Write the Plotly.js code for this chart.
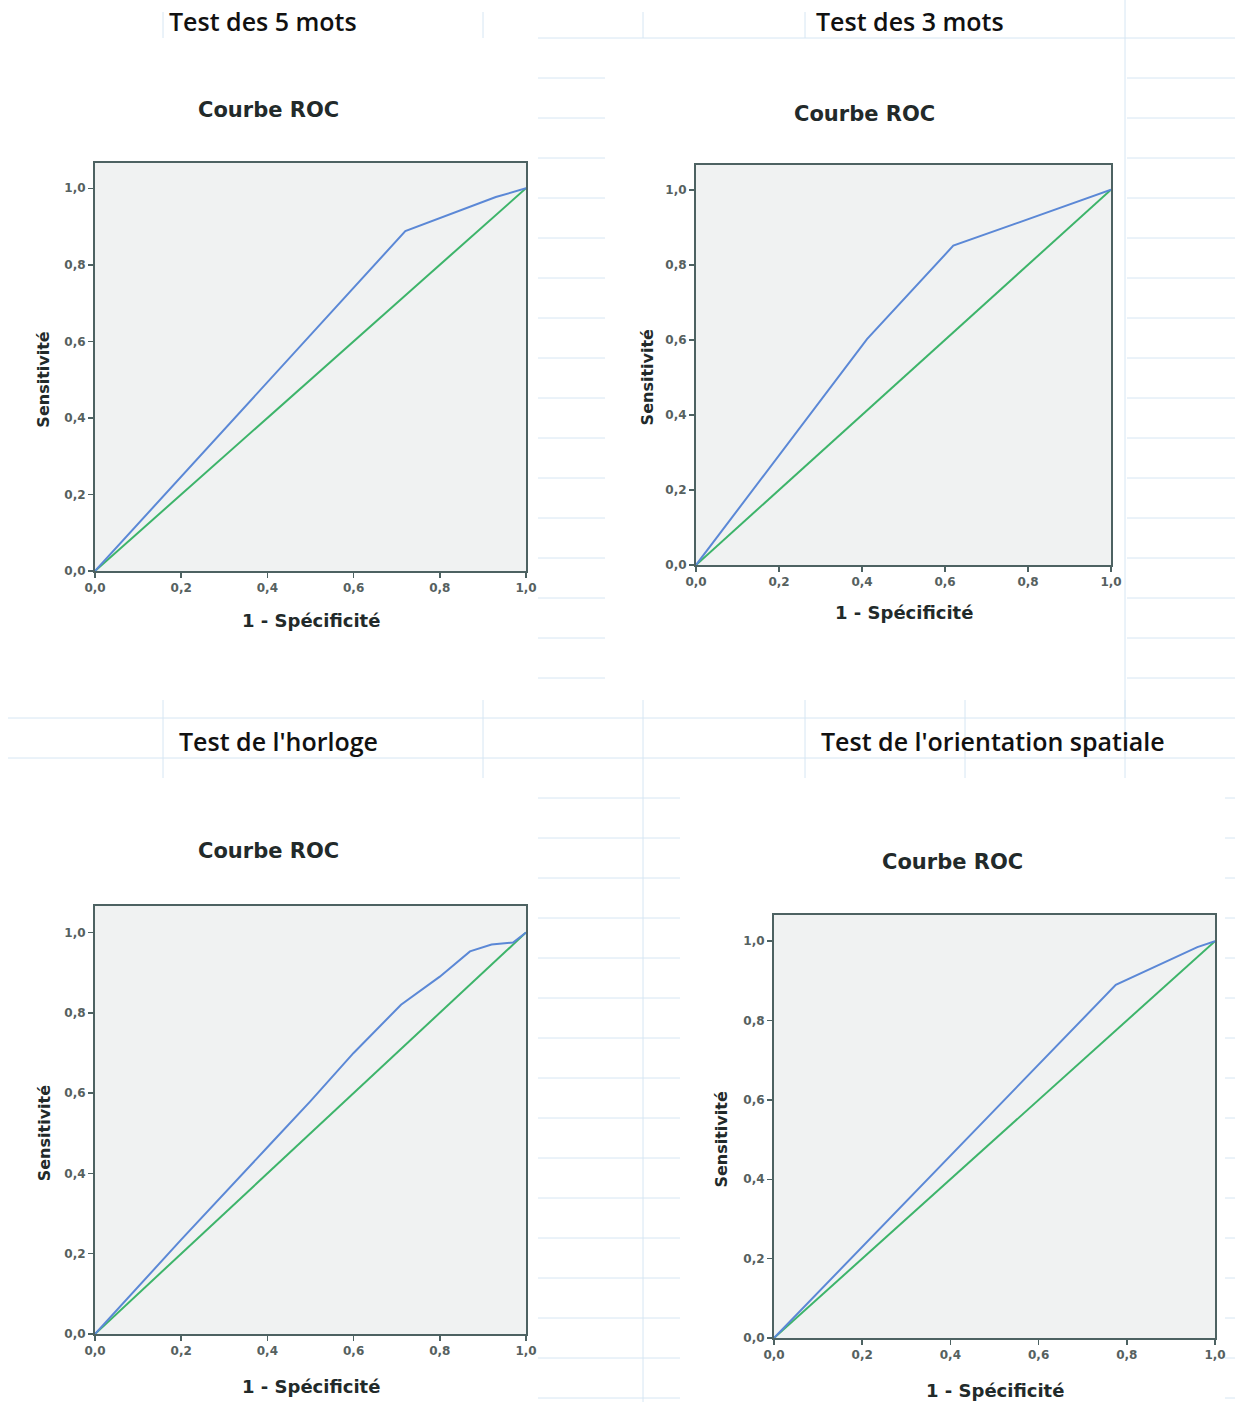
<!DOCTYPE html>
<html>
<head>
<meta charset="utf-8">
<script src="https://cdn.plot.ly/plotly-3.0.1.min.js"></script>
<style>
html,body{margin:0;padding:0;background:#ffffff;}
#chart{width:1235px;height:1402px;}
</style>
</head>
<body>
<div id="chart"></div>
<script>
// ---- Data ----
const sectionTitles = ["Test des 5 mots", "Test des 3 mots", "Test de l'horloge", "Test de l'orientation spatiale"];
const chartTitle = "Courbe ROC";
const xTitle = "1 - Spécificité";
const yTitle = "Sensitivité";
const tickVals = [0, 0.2, 0.4, 0.6, 0.8, 1.0];
const tickLabels = ["0,0", "0,2", "0,4", "0,6", "0,8", "1,0"];

const fpr5mots = [0, 0.72, 0.93, 1];
const sens5mots = [0, 0.888, 0.977, 1];

const fpr3mots = [0, 0.412, 0.62, 1];
const sens3mots = [0, 0.602, 0.851, 1];

const fprHorloge = [0, 0.2, 0.4, 0.5, 0.6, 0.71, 0.8, 0.87, 0.92, 0.97, 1];
const sensHorloge = [0, 0.235, 0.465, 0.58, 0.70, 0.82, 0.89, 0.953, 0.97, 0.975, 1];

const fprOrient = [0, 0.775, 0.96, 1];
const sensOrient = [0, 0.89, 0.985, 1];

const refX = [0, 1];
const refY = [0, 1];

// ---- Layout helpers ----
const W = 1235, H = 1402;
const px = v => v / W;
const py = v => 1 - v / H;

// plot frames in pixels: [left, right, top, bottom]
const frames = [
  [95, 526, 163, 571],
  [696, 1111, 165, 565],
  [95, 526, 906, 1334],
  [774, 1215, 915, 1338]
];
const rocTitlePos = [[268, 110], [864, 114], [268, 851], [952, 862]];
const sectionPos = [[263, 21], [910, 21], [278, 741], [993, 741]];
const xTitleY = [620, 612, 1386, 1390];
const yTitleX = [44, 647, 44, 722];

const blue = '#5b88d6';
const green = '#3db46a';
const frameColor = '#4d6262';
const sansFam = 'DejaVu Sans, Verdana, sans-serif';
const tickFont = {family: sansFam, size: 12, color: '#56615f', weight: 'bold'};

const curves = [[fpr5mots, sens5mots], [fpr3mots, sens3mots], [fprHorloge, sensHorloge], [fprOrient, sensOrient]];

const data = [];
const layout = {
  width: W, height: H,
  margin: {l: 0, r: 0, t: 0, b: 0},
  paper_bgcolor: '#ffffff',
  plot_bgcolor: '#f0f2f2',
  showlegend: false,
  separators: ', ',
  annotations: [],
  shapes: []
};

curves.forEach((c, i) => {
  const n = i === 0 ? '' : String(i + 1);
  const xa = 'x' + n, ya = 'y' + n;
  data.push({x: refX, y: refY, xaxis: xa, yaxis: ya, mode: 'lines', type: 'scatter',
    line: {color: green, width: 2}, hoverinfo: 'skip'});
  data.push({x: c[0], y: c[1], xaxis: xa, yaxis: ya, mode: 'lines', type: 'scatter',
    line: {color: blue, width: 2}, hoverinfo: 'skip'});
  const f = frames[i];
  layout['xaxis' + n] = {
    domain: [px(f[0]), px(f[1])], anchor: ya, range: [0, 1],
    tickvals: tickVals, ticktext: tickLabels, ticks: 'outside', ticklen: 5, tickwidth: 1.5,
    tickcolor: frameColor, showline: true, linecolor: frameColor, linewidth: 2, mirror: true,
    showgrid: false, zeroline: false, tickfont: tickFont, fixedrange: true
  };
  layout['yaxis' + n] = {
    domain: [py(f[3]), py(f[2])], anchor: xa, range: [0, 1.066],
    tickvals: tickVals, ticktext: tickLabels, ticks: 'outside', ticklen: 5, tickwidth: 1.5,
    tickcolor: frameColor, showline: true, linecolor: frameColor, linewidth: 2, mirror: true,
    showgrid: false, zeroline: false, tickfont: tickFont, fixedrange: true
  };
  layout.shapes.push({type: 'rect', xref: 'paper', yref: 'paper', layer: 'below',
    x0: px(f[0]), x1: px(f[1]), y0: py(f[3]), y1: py(f[2]), fillcolor: '#f0f2f2', line: {width: 0}});
  layout.annotations.push({text: '<b>' + chartTitle + '</b>', xref: 'paper', yref: 'paper',
    x: px(rocTitlePos[i][0]), y: py(rocTitlePos[i][1]), xanchor: 'center', yanchor: 'middle', showarrow: false,
    font: {family: sansFam, size: 21, color: '#222a2a'}});
  layout.annotations.push({text: '<b>' + xTitle + '</b>', xref: xa, yref: 'paper',
    x: 0.5, y: py(xTitleY[i]), xanchor: 'center', yanchor: 'middle', showarrow: false,
    font: {family: sansFam, size: 18, color: '#222a2a'}});
  layout.annotations.push({text: '<b>' + yTitle + '</b>', xref: 'paper', yref: ya,
    x: px(yTitleX[i]), y: 0.5, xanchor: 'center', yanchor: 'middle', showarrow: false, textangle: -90,
    font: {family: sansFam, size: 16, color: '#222a2a'}});
  layout.annotations.push({text: sectionTitles[i], xref: 'paper', yref: 'paper',
    x: px(sectionPos[i][0]), y: py(sectionPos[i][1]), xanchor: 'center', yanchor: 'middle', showarrow: false,
    font: {family: 'Liberation Sans Narrow, Open Sans, sans-serif', size: 25, weight: 600, color: '#111111'}});
});

// faint spreadsheet-style background rules
const rule = '#d6e6f3';
function hline(y, x0, x1) {
  layout.shapes.push({type: 'line', xref: 'paper', yref: 'paper', layer: 'below',
    x0: px(x0), x1: px(x1), y0: py(y), y1: py(y), line: {color: rule, width: 1}});
}
function vline(x, y0, y1) {
  layout.shapes.push({type: 'line', xref: 'paper', yref: 'paper', layer: 'below',
    x0: px(x), x1: px(x), y0: py(y0), y1: py(y1), line: {color: rule, width: 1}});
}
hline(38, 538, 1235);
for (let y = 78; y <= 680; y += 40) { hline(y, 538, 605); hline(y, 1127, 1235); }
[163, 483, 643, 805].forEach(x => vline(x, 12, 38));
vline(1125, 0, 718);
hline(718, 8, 1235);
hline(758, 8, 1235);
[163, 483, 643, 805, 965, 1125].forEach(x => vline(x, 700, 778));
vline(643, 778, 1402);
for (let y = 798; y <= 1400; y += 40) { hline(y, 538, 680); hline(y, 1225, 1235); }

Plotly.newPlot('chart', data, layout, {staticPlot: true, displayModeBar: false});
</script>
</body>
</html>
